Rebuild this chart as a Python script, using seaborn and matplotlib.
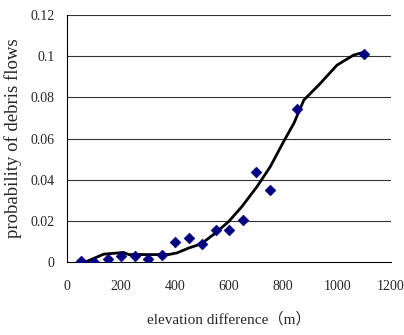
import matplotlib
matplotlib.use("Agg")
import matplotlib.pyplot as plt
import pandas as pd
import seaborn as sns

# observed probabilities
elev_obs = [50, 100, 150, 200, 250, 300, 350, 400, 450, 500, 550, 600, 650, 700, 750, 850, 1100]
prob_obs = [0.0006, 0.0, 0.0015, 0.0027, 0.0031, 0.0015, 0.0034, 0.0095, 0.0118, 0.0087,
            0.0157, 0.0154, 0.0205, 0.0438, 0.0351, 0.0745, 0.1009]

# fitted curve
elev_fit = [68, 136, 210, 228, 300, 376, 407, 451, 481, 506, 549, 599, 648, 704, 753,
            802, 840, 877, 938, 1000, 1062, 1099]
prob_fit = [0.0, 0.0038, 0.0046, 0.0036, 0.0036, 0.0036, 0.0044, 0.0068, 0.0081, 0.0097,
            0.014, 0.0197, 0.027, 0.0367, 0.0464, 0.0585, 0.0674, 0.0787, 0.0868, 0.0957,
            0.1006, 0.1019]

x_ticks = [0, 200, 400, 600, 800, 1000, 1200]
y_ticks = [0, 0.02, 0.04, 0.06, 0.08, 0.1, 0.12]
y_tick_labels = ["0", "0.02", "0.04", "0.06", "0.08", "0.1", "0.12"]


def main() -> None:
    sns.set_style("white")
    plt.rcParams["font.family"] = ["Liberation Serif", "Noto Sans CJK SC"]

    obs = pd.DataFrame({"elev": elev_obs, "prob": prob_obs})
    fit = pd.DataFrame({"elev": elev_fit, "prob": prob_fit})

    fig = plt.figure(figsize=(4.04, 3.35), dpi=100)
    ax = fig.add_axes([0.166, 0.218, 0.802, 0.737])

    for y in y_ticks[1:]:
        ax.axhline(y, color="#333333", lw=0.8, zorder=0)

    sns.lineplot(data=fit, x="elev", y="prob", ax=ax, color="black", lw=2, zorder=2)
    sns.scatterplot(data=obs, x="elev", y="prob", ax=ax, marker="D", s=30,
                    color="#000080", edgecolor="#000080", zorder=3)

    ax.set_xlim(0, 1200)
    ax.set_ylim(0, 0.12)
    ax.set_xticks(x_ticks)
    ax.set_yticks(y_ticks)
    ax.set_yticklabels(y_tick_labels)
    ax.tick_params(axis="x", direction="in", length=4, width=0.8, color="black",
                   labelsize=10, pad=13)
    ax.tick_params(axis="y", length=0, labelsize=10, pad=9)

    ax.spines["top"].set_visible(False)
    ax.spines["right"].set_visible(False)
    for side in ["left", "bottom"]:
        ax.spines[side].set_color("black")
        ax.spines[side].set_linewidth(0.8)

    ax.set_xlabel("elevation difference（m）", fontsize=11, labelpad=14)
    ax.set_ylabel("probability of debris flows", fontsize=13.5, labelpad=6)

    fig.savefig("out.png", dpi=100)
    plt.close(fig)


if __name__ == "__main__":
    main()
